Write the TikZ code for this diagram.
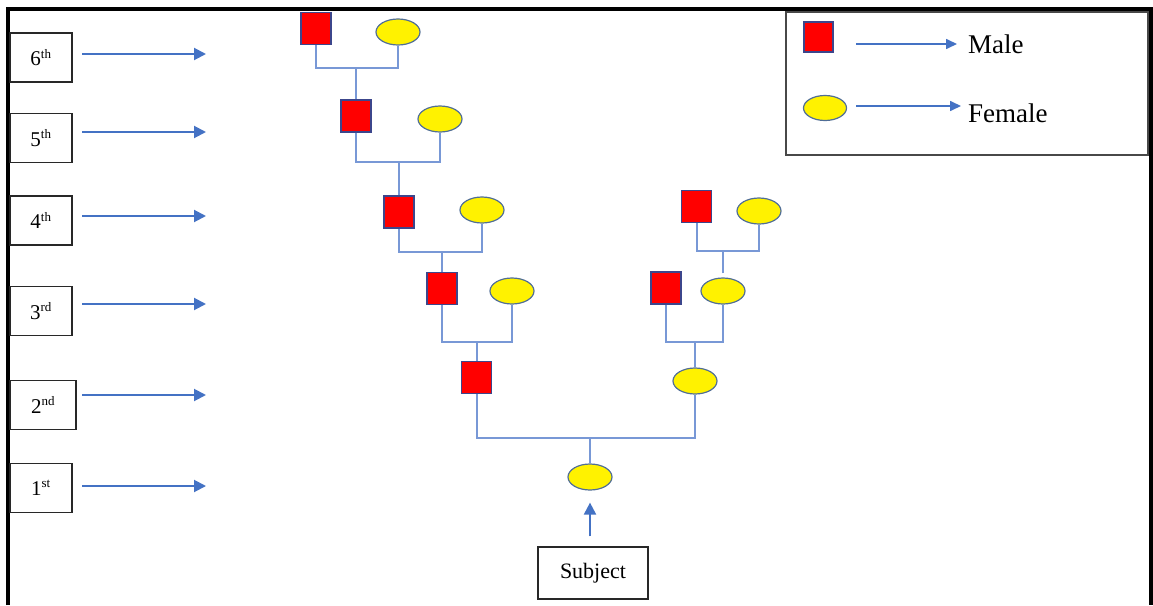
\documentclass[tikz,border=0pt]{standalone}
\usepackage{fontspec}
\setmainfont{Liberation Serif}
\usetikzlibrary{shapes.geometric,arrows.meta}
\definecolor{arrowblue}{RGB}{68,114,196}
\definecolor{linkblue}{RGB}{120,152,214}
\definecolor{maleedge}{RGB}{60,70,140}
\definecolor{femedge}{RGB}{80,110,150}
\definecolor{boxedge}{RGB}{40,40,40}
\tikzset{
  male/.style={draw=maleedge, fill=red, minimum width=30, minimum height=32, inner sep=0pt, line width=1.2pt},
  female/.style={ellipse, draw=femedge, fill=yellow, minimum width=44, minimum height=26, inner sep=0pt, line width=1.2pt},
  link/.style={draw=linkblue, line width=2pt},
  arr/.style={draw=arrowblue, line width=2pt, -{Triangle[length=12pt,width=12pt]}},
  genbox/.style={draw=boxedge, line width=1.5pt, minimum width=62, minimum height=49, inner sep=0pt, font=\fontsize{21}{24}\selectfont},
  frame/.style={line width=3.5pt, black}
}
\newcommand{\gen}[2]{#1\textsuperscript{\fontsize{13}{14}\selectfont #2}}
\begin{document}
\begin{tikzpicture}[x=1pt,y=-1pt]
\useasboundingbox (0,0) rectangle (1153,605);
\fill[white] (0,0) rectangle (1153,605);
% outer frame (open at the bottom)
\draw[frame] (8,605) -- (8,9) -- (1151,9) -- (1151,605);

% generation labels
\node[genbox] (g6) at (41,57.5) {\gen{6}{th}};
\node[genbox] (g5) at (41,138) {\gen{5}{th}};
\node[genbox] (g4) at (41,220.5) {\gen{4}{th}};
\node[genbox] (g3) at (41,311) {\gen{3}{rd}};
\node[genbox, minimum width=66] (g2) at (43,405) {\gen{2}{nd}};
\node[genbox] (g1) at (41,488) {\gen{1}{st}};
\foreach \n/\y in {6/54,5/132,4/216,3/304,2/395,1/486}{
  \coordinate (s\n) at (82,\y);
  \coordinate (t\n) at (206,\y);
  \draw[arr] (s\n) -- (t\n);
}

% paternal line
\node[male] (m6) at (316,28.5) {};
\node[female] (f6) at (398,32) {};
\node[male] (m5) at (356,116) {};
\node[female] (f5) at (440,119) {};
\node[male] (m4) at (399,212) {};
\node[female] (f4) at (482,210) {};
\node[male] (m3) at (442,288.5) {};
\node[female] (f3) at (512,291) {};
\node[male] (m2) at (476.5,377.5) {};

% maternal line
\node[male] (mr4) at (696.5,206.5) {};
\node[female] (fr4) at (759,211) {};
\node[male] (mr3) at (666,288) {};
\node[female] (fr3) at (723,291) {};
\node[female] (f2) at (695,381) {};

% subject
\node[female] (f1) at (590,477) {};
\node[draw=boxedge, line width=1.5pt, minimum width=110, minimum height=52, inner sep=0pt,
      font=\fontsize{22}{24}\selectfont] (subj) at (593,573) {Subject};

% couple bars
\coordinate (b6) at (0,68);
\coordinate (b5) at (0,162);
\coordinate (b4) at (0,252);
\coordinate (b3) at (0,342);
\coordinate (b2) at (0,438);
\coordinate (br4) at (0,251);
\coordinate (br3) at (0,342);
\draw[link] (m6.south) |- (b6 -| f6.south) -- (f6.south);
\draw[link] (m5.north) -- (m5.north |- b6);
\draw[link] (m5.south) |- (b5 -| f5.south) -- (f5.south);
\draw[link] (m4.north) -- (m4.north |- b5);
\draw[link] (m4.south) |- (b4 -| f4.south) -- (f4.south);
\draw[link] (m3.north) -- (m3.north |- b4);
\draw[link] (m3.south) |- (b3 -| f3.south) -- (f3.south);
\draw[link] (m2.north) -- (m2.north |- b3);
\draw[link] (mr4.south) |- (br4 -| fr4.south) -- (fr4.south);
\draw[link, shorten <=4pt] (fr3.north) -- (fr3.north |- br4);
\draw[link] (mr3.south) |- (br3 -| fr3.south) -- (fr3.south);
\draw[link] (f2.north) -- (f2.north |- br3);
\draw[link] (m2.south) |- (b2 -| f2.south) -- (f2.south);
\draw[link] (f1.north) -- (f1.north |- b2);
\draw[arr, shorten <=10pt, shorten >=12pt] (f1.south |- subj.north) -- (f1.south);

% key
\node[draw=boxedge!85, line width=2pt, minimum width=362, minimum height=143, inner sep=0pt] (key) at (967,83.5) {};
\node[male, minimum width=29, minimum height=30] (km) at (818.5,37) {};
\node[female, minimum width=43, minimum height=25] (kf) at (825,108) {};
\coordinate (kms) at (856,44);
\coordinate (kmt) at (957,44);
\coordinate (kfs) at (856,106);
\coordinate (kft) at (961,106);
\draw[arr, line width=1.6pt, -{Triangle[length=11pt,width=10pt]}] (kms) -- (kmt);
\draw[arr, line width=1.6pt, -{Triangle[length=11pt,width=10pt]}] (kfs) -- (kft);
\node[anchor=west, inner sep=0pt, font=\fontsize{27}{30}\selectfont] (kml) at (968,44) {Male};
\node[anchor=west, inner sep=0pt, font=\fontsize{27}{30}\selectfont] (kfl) at (968,113) {Female};
\end{tikzpicture}
\end{document}
